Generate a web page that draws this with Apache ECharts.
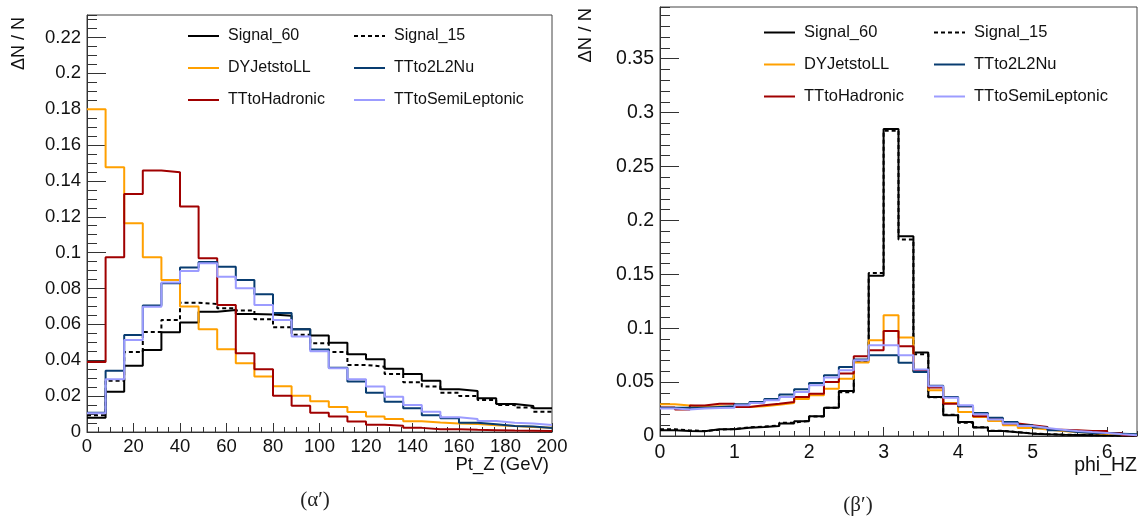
<!DOCTYPE html>
<html>
<head>
<meta charset="utf-8">
<script src="https://cdn.jsdelivr.net/npm/echarts@6/dist/echarts.min.js"></script>
<style>
html,body{margin:0;padding:0;background:#fff;}
#chart{width:1143px;height:518px;}
</style>
</head>
<body>
<div id="chart"></div>
<script>
// ---------- data (fraction per bin) ----------
const seriesNames = ['Signal_60', 'Signal_15', 'DYJetstoLL', 'TTtoHadronic', 'TTto2L2Nu', 'TTtoSemiLeptonic'];

// Left panel: Pt_Z, 25 bins of 8 GeV from 0 to 200
const ptBinWidth = 8;
const ptSignal60 = [0.0080, 0.0225, 0.0370, 0.0457, 0.0556, 0.0610, 0.0670, 0.0680, 0.0658, 0.0655, 0.0648, 0.0573, 0.0538, 0.0498, 0.0433, 0.0405, 0.0353, 0.0323, 0.0286, 0.0238, 0.0229, 0.0188, 0.0156, 0.0145, 0.0132];
const ptSignal15 = [0.0094, 0.0286, 0.0446, 0.0558, 0.0625, 0.0721, 0.0714, 0.0690, 0.0677, 0.0628, 0.0584, 0.0542, 0.0495, 0.0446, 0.0374, 0.0364, 0.0323, 0.0277, 0.0253, 0.0219, 0.0201, 0.0178, 0.0151, 0.0136, 0.0113];
const ptDY        = [0.1800, 0.1476, 0.1164, 0.0974, 0.0848, 0.0700, 0.0573, 0.0461, 0.0383, 0.0309, 0.0255, 0.0202, 0.0171, 0.0140, 0.0112, 0.0087, 0.0073, 0.0060, 0.0053, 0.0048, 0.0045, 0.0038, 0.0033, 0.0028, 0.0024];
const ptHadronic  = [0.0390, 0.0974, 0.1327, 0.1458, 0.1448, 0.1257, 0.0969, 0.0708, 0.0439, 0.0350, 0.0202, 0.0146, 0.0108, 0.0086, 0.0058, 0.0040, 0.0035, 0.0023, 0.0016, 0.0015, 0.0012, 0.0010, 0.0008, 0.0007, 0.0006];
const pt2L2Nu     = [0.0108, 0.0342, 0.0541, 0.0705, 0.0829, 0.0917, 0.0948, 0.0922, 0.0848, 0.0768, 0.0664, 0.0573, 0.0460, 0.0358, 0.0281, 0.0219, 0.0169, 0.0132, 0.0093, 0.0076, 0.0052, 0.0043, 0.0033, 0.0030, 0.0022];
const ptSemiLep   = [0.0104, 0.0294, 0.0513, 0.0699, 0.0833, 0.0898, 0.0941, 0.0866, 0.0801, 0.0708, 0.0625, 0.0532, 0.0450, 0.0355, 0.0294, 0.0253, 0.0197, 0.0151, 0.0113, 0.0082, 0.0073, 0.0061, 0.0052, 0.0048, 0.0039];

// Right panel: phi_HZ, 32 bins of 0.2 from 0 to 6.4
const phiBinWidth = 0.2;
const phiSignal60 = [0.0053, 0.0046, 0.0044, 0.0062, 0.0062, 0.0077, 0.0084, 0.0093, 0.0115, 0.0136, 0.0183, 0.0263, 0.0418, 0.0700, 0.1486, 0.2847, 0.1854, 0.0774, 0.0362, 0.0192, 0.0130, 0.0078, 0.0047, 0.0034, 0.0022, 0.0016, 0.0012, 0.0010, 0.0008, 0.0006, 0.0005, 0.0004];
const phiSignal15 = [0.0062, 0.0052, 0.0046, 0.0058, 0.0066, 0.0080, 0.0088, 0.0098, 0.0124, 0.0140, 0.0180, 0.0262, 0.0405, 0.0690, 0.1513, 0.2832, 0.1823, 0.0758, 0.0360, 0.0197, 0.0124, 0.0082, 0.0049, 0.0035, 0.0024, 0.0017, 0.0013, 0.0010, 0.0008, 0.0006, 0.0005, 0.0004];
const phiDY       = [0.0294, 0.0282, 0.0269, 0.0275, 0.0269, 0.0269, 0.0275, 0.0291, 0.0306, 0.0343, 0.0378, 0.0439, 0.0532, 0.0681, 0.0888, 0.1120, 0.0913, 0.0601, 0.0424, 0.0307, 0.0223, 0.0177, 0.0140, 0.0100, 0.0075, 0.0060, 0.0047, 0.0037, 0.0028, 0.0022, 0.0016, 0.0010];
const phiHadronic = [0.0265, 0.0245, 0.0282, 0.0300, 0.0300, 0.0269, 0.0285, 0.0300, 0.0316, 0.0362, 0.0393, 0.0501, 0.0579, 0.0740, 0.0795, 0.0975, 0.0833, 0.0610, 0.0449, 0.0300, 0.0276, 0.0183, 0.0161, 0.0115, 0.0100, 0.0084, 0.0059, 0.0053, 0.0047, 0.0047, 0.0028, 0.0007];
const phi2L2Nu    = [0.0263, 0.0263, 0.0263, 0.0269, 0.0275, 0.0294, 0.0316, 0.0343, 0.0384, 0.0433, 0.0492, 0.0563, 0.0641, 0.0709, 0.0749, 0.0749, 0.0680, 0.0594, 0.0467, 0.0362, 0.0276, 0.0214, 0.0170, 0.0130, 0.0100, 0.0078, 0.0053, 0.0037, 0.0028, 0.0028, 0.0022, 0.0016];
const phiSemiLep  = [0.0254, 0.0245, 0.0254, 0.0260, 0.0263, 0.0285, 0.0306, 0.0331, 0.0362, 0.0409, 0.0470, 0.0542, 0.0610, 0.0703, 0.0842, 0.0842, 0.0749, 0.0616, 0.0461, 0.0356, 0.0285, 0.0201, 0.0152, 0.0115, 0.0093, 0.0075, 0.0059, 0.0047, 0.0037, 0.0028, 0.0016, 0.0007];

// ---------- styles ----------
const colors = ['#000000', '#000000', '#ffa000', '#a00000', '#083c70', '#9c9cff'];
const lineTypes = ['solid', [4, 3], 'solid', 'solid', 'solid', 'solid'];
const FONT = 'Liberation Sans';

function histPoints(values, width) {
  const pts = values.map((v, i) => [+(i * width).toFixed(6), v]);
  pts.push([+(values.length * width).toFixed(6), values[values.length - 1]]);
  return pts;
}

const leftSets = [ptSignal60, ptSignal15, ptDY, ptHadronic, pt2L2Nu, ptSemiLep];
const rightSets = [phiSignal60, phiSignal15, phiDY, phiHadronic, phi2L2Nu, phiSemiLep];

const series = [];
leftSets.forEach((vals, k) => series.push({
  name: seriesNames[k], type: 'line', step: 'end', symbol: 'none',
  xAxisIndex: 0, yAxisIndex: 0, data: histPoints(vals, ptBinWidth),
  lineStyle: { color: colors[k], width: 2, type: lineTypes[k] },
  itemStyle: { color: colors[k] }, animation: false, z: 2 + k
}));
rightSets.forEach((vals, k) => series.push({
  name: seriesNames[k], type: 'line', step: 'end', symbol: 'none',
  xAxisIndex: 1, yAxisIndex: 1, data: histPoints(vals, phiBinWidth),
  lineStyle: { color: colors[k], width: 2, type: lineTypes[k] },
  itemStyle: { color: colors[k] }, animation: false, z: 2 + k
}));

function mainX(grid, max, interval, fs, margin) {
  return {
    type: 'value', gridIndex: grid, min: 0, max: max, interval: interval, position: 'bottom',
    axisLine: { show: true, lineStyle: { color: '#333', width: 1 } },
    axisTick: { show: true, inside: true, length: 9, lineStyle: { color: '#333' } },
    axisLabel: { fontFamily: FONT, fontSize: fs, color: '#111', margin: margin, showMaxLabel: max % interval === 0 },
    splitLine: { show: false }
  };
}
function minorX(grid, max, interval) {
  return {
    type: 'value', gridIndex: grid, min: 0, max: max, interval: interval, position: 'bottom',
    axisLine: { show: false }, axisLabel: { show: false }, splitLine: { show: false },
    axisTick: { show: true, inside: true, length: 5, lineStyle: { color: '#333' } }
  };
}
function mainY(grid, max, interval, fs) {
  return {
    type: 'value', gridIndex: grid, min: 0, max: max, interval: interval, position: 'left',
    axisLine: { show: true, lineStyle: { color: '#333', width: 1 } },
    axisTick: { show: true, inside: true, length: 19, lineStyle: { color: '#333' } },
    axisLabel: { fontFamily: FONT, fontSize: fs, color: '#111', margin: 6, showMaxLabel: false },
    splitLine: { show: false }
  };
}
function minorY(grid, max, interval) {
  return {
    type: 'value', gridIndex: grid, min: 0, max: max, interval: interval, position: 'left',
    axisLine: { show: false }, axisLabel: { show: false }, splitLine: { show: false },
    axisTick: { show: true, inside: true, length: 10, lineStyle: { color: '#333' } }
  };
}

function legend(left, top, names, fs, gap) {
  return {
    left: left, top: top, orient: 'vertical', padding: 0, selectedMode: false,
    itemWidth: 31, itemHeight: 14, itemGap: gap, data: names,
    itemStyle: { opacity: 0 },
    textStyle: { fontFamily: FONT, fontSize: fs, color: '#111', padding: [0, 0, 0, 4] }
  };
}

const leftRect = { left: 87, top: 15, width: 465, height: 417 };
const rightRect = { left: 660, top: 7, width: 477, height: 429 };

const option = {
  backgroundColor: '#fff',
  animation: false,
  grid: [
    Object.assign({ show: true, borderColor: '#444', borderWidth: 1, backgroundColor: 'transparent' }, leftRect),
    Object.assign({ show: true, borderColor: '#444', borderWidth: 1, backgroundColor: 'transparent' }, rightRect),
    Object.assign({ show: false }, leftRect),
    Object.assign({ show: false }, rightRect)
  ],
  xAxis: [
    mainX(0, 200, 20, 18.5, 5),
    mainX(1, 6.4, 1, 19.5, 7),
    minorX(2, 200, 5),
    minorX(3, 6.4, 0.2)
  ],
  yAxis: [
    mainY(0, 0.2325, 0.02, 18.5),
    mainY(1, 0.398, 0.05, 19.5),
    minorY(2, 0.2325, 0.005),
    minorY(3, 0.398, 0.01)
  ],
  legend: [
    legend(187, 28, ['Signal_60', 'DYJetstoLL', 'TTtoHadronic'], 16, 16),
    legend(353, 28, ['Signal_15', 'TTto2L2Nu', 'TTtoSemiLeptonic'], 16, 16),
    legend(763, 24, ['Signal_60', 'DYJetstoLL', 'TTtoHadronic'], 16.5, 15),
    legend(933, 24, ['Signal_15', 'TTto2L2Nu', 'TTtoSemiLeptonic'], 16.5, 15)
  ],
  graphic: [
    { type: 'text', x: 19, y: 17, rotation: Math.PI / 2,
      style: { text: 'ΔN / N', font: '18px "Liberation Sans"', fill: '#111', align: 'right', verticalAlign: 'middle' } },
    { type: 'text', x: 586, y: 8, rotation: Math.PI / 2,
      style: { text: 'ΔN / N', font: '18.5px "Liberation Sans"', fill: '#111', align: 'right', verticalAlign: 'middle' } },
    { type: 'text', x: 549, y: 465,
      style: { text: 'Pt_Z (GeV)', font: '18.5px "Liberation Sans"', fill: '#111', align: 'right', verticalAlign: 'middle' } },
    { type: 'text', x: 1137, y: 466,
      style: { text: 'phi_HZ', font: '19.5px "Liberation Sans"', fill: '#111', align: 'right', verticalAlign: 'middle' } },
    { type: 'text', x: 315, y: 500,
      style: { text: '(α′)', font: '21px "Liberation Serif"', fill: '#222', align: 'center', verticalAlign: 'middle' } },
    { type: 'text', x: 858, y: 505,
      style: { text: '(β′)', font: '21px "Liberation Serif"', fill: '#222', align: 'center', verticalAlign: 'middle' } }
  ],
  series: series
};

const chart = echarts.init(document.getElementById('chart'), null, { renderer: 'canvas' });
chart.setOption(option);
</script>
</body>
</html>
